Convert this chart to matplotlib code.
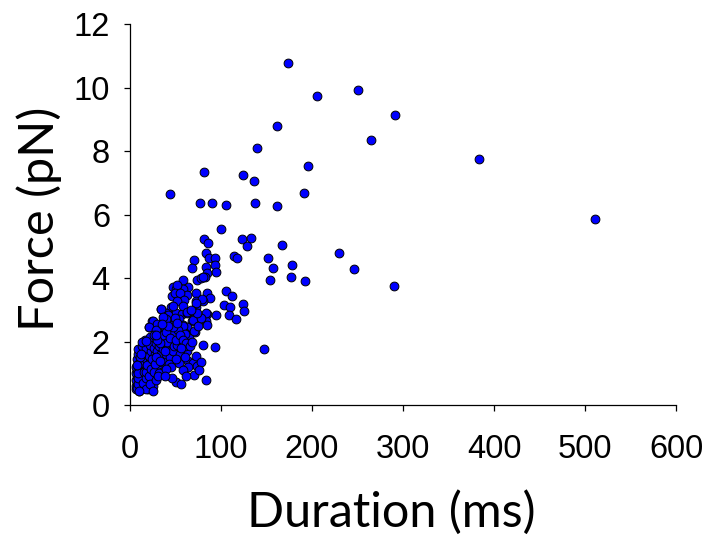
import matplotlib
matplotlib.use('Agg')
import matplotlib.pyplot as plt

# 持续时间 (ms) 与 力 (pN)
# 离群点 / 中间区域
duration_outer = [174, 205, 250, 291, 162, 265, 140, 383, 196, 81, 124, 136, 191, 44, 162, 511,
                  167, 230, 178, 246, 177, 192, 290, 77, 90, 106, 137, 100, 81, 86, 123, 133,
                  129, 83, 70, 87, 93, 114, 118, 152, 68, 84, 93, 157, 95, 85, 82, 74, 78, 154,
                  105, 112, 85, 88, 72, 64, 80, 124, 103, 110, 125, 85, 94, 109, 116, 68, 84,
                  85, 71, 65, 93, 147]
force_outer = [10.78, 9.73, 9.93, 9.14, 8.80, 8.35, 8.10, 7.76, 7.53, 7.35, 7.26, 7.07, 6.70, 6.66,
               6.26, 5.87, 5.06, 4.80, 4.42, 4.29, 4.04, 3.92, 3.74, 6.37, 6.38, 6.30, 6.38, 5.56,
               5.24, 5.11, 5.24, 5.27, 5.02, 4.80, 4.57, 4.62, 4.64, 4.70, 4.62, 4.62, 4.32, 4.35,
               4.42, 4.32, 4.20, 4.16, 4.04, 3.94, 4.00, 3.94, 3.60, 3.44, 3.53, 3.38, 3.54, 3.72,
               3.28, 3.19, 3.15, 3.09, 2.97, 2.87, 2.84, 2.84, 2.72, 2.65, 2.65, 2.52, 2.30, 2.27,
               1.83, 1.77]

# 斜带区域
duration_mid = [58, 58, 47, 51, 46, 54, 63, 73, 79, 72, 45, 34, 40, 46, 51, 57, 63, 54, 43, 48,
                58, 63, 60, 65, 24, 21, 27, 32, 31, 38, 40, 49, 63, 72, 64, 54, 51, 84, 69, 74,
                80, 52, 49, 55, 72, 59, 52, 58, 69, 63, 69, 83, 34, 47, 42, 49, 39, 36, 25, 30,
                21, 28, 37, 43, 47, 58, 70, 60, 16, 22, 38]
force_mid = [3.94, 3.65, 3.73, 3.65, 3.44, 3.46, 3.48, 3.29, 3.33, 3.10, 3.10, 3.04, 2.89, 2.85,
             2.91, 2.87, 2.89, 2.70, 2.64, 2.56, 2.51, 2.47, 2.28, 2.11, 2.64, 2.45, 2.43, 2.51,
             2.22, 2.39, 2.15, 2.22, 1.69, 1.27, 1.38, 1.33, 0.73, 0.79, 1.32, 1.23, 4.05, 3.78,
             3.54, 3.52, 3.21, 3.31, 3.27, 3.12, 2.96, 2.93, 2.68, 2.89, 3.04, 3.12, 2.83, 2.74,
             2.70, 2.79, 2.64, 2.56, 2.45, 2.37, 2.49, 2.41, 2.26, 2.49, 2.32, 2.24, 2.05, 2.14,
             2.07]

# 原点附近的密集区
duration_low = [7, 7, 8, 7, 8, 7, 8, 7, 9, 8, 9, 9, 10, 10, 11, 10, 11, 10, 11, 10, 12, 11, 12, 13,
                12, 13, 14, 12, 13, 14, 13, 15, 14, 13, 15, 16, 15, 16, 17, 16, 18, 17, 18, 19,
                20, 19, 21, 20, 22, 21, 23, 22, 24, 25, 24, 26, 25, 27, 26, 28, 29, 30, 29, 31,
                30, 32, 34, 35, 34, 36, 37, 39, 40, 42, 44, 45, 47, 8, 9, 9, 9, 10, 8, 11, 12,
                14, 15, 17, 18, 19, 21, 23, 24, 26, 27, 28, 33, 38, 41, 43, 48, 52, 55, 60, 35,
                32, 20, 25, 17, 22, 28, 31, 45, 50, 39, 33, 36, 40, 44, 50, 53, 47, 55, 42, 30,
                26, 35, 52, 58, 62, 56, 66, 68, 73, 78, 60, 64, 58, 70, 46, 38, 56, 62, 76, 80,
                75, 78, 74, 67, 25, 10, 8, 13, 18, 28]
force_low = [0.50, 0.60, 0.70, 0.80, 0.90, 1.00, 1.10, 1.20, 1.30, 1.45, 1.60, 1.75, 0.45, 0.55,
             0.65, 0.75, 0.85, 0.95, 1.05, 1.15, 1.25, 1.40, 0.50, 0.60, 0.70, 0.80, 0.90, 1.00,
             1.10, 1.20, 1.35, 1.50, 1.65, 1.85, 0.55, 0.70, 0.85, 1.00, 1.15, 1.30, 1.45, 1.60,
             1.80, 0.60, 0.75, 0.90, 1.05, 1.20, 1.35, 1.55, 1.70, 1.90, 0.80, 0.95, 1.10, 1.25,
             1.40, 1.60, 1.80, 1.95, 1.00, 1.20, 1.35, 1.50, 1.70, 1.85, 1.15, 1.35, 1.60, 1.75,
             1.95, 1.40, 1.60, 1.80, 1.50, 1.95, 1.70, 0.55, 0.65, 0.85, 1.00, 1.30, 1.25, 1.50,
             1.60, 0.70, 1.05, 0.85, 1.05, 1.25, 0.90, 1.15, 1.45, 1.05, 1.30, 1.50, 1.40, 1.70,
             2.00, 1.30, 1.85, 1.90, 1.60, 1.85, 1.05, 1.00, 0.50, 0.60, 0.50, 0.65, 0.80, 0.90,
             1.20, 1.45, 1.15, 1.95, 2.20, 2.30, 2.10, 2.05, 2.35, 2.45, 2.20, 2.50, 2.05, 2.20,
             2.55, 2.60, 2.05, 1.95, 1.80, 1.85, 2.00, 1.55, 1.35, 1.50, 1.20, 1.10, 0.95, 0.85,
             0.90, 0.65, 0.90, 1.10, 1.90, 2.50, 2.75, 2.90, 3.00, 0.45, 0.45, 1.27, 1.99, 2.03,
             2.22]

duration = duration_outer + duration_mid + duration_low
force = force_outer + force_mid + force_low

fig = plt.figure(figsize=(7.09, 5.42), dpi=100)
ax = fig.add_axes([0.1834, 0.2528, 0.7701, 0.7020])

ax.scatter(duration, force, s=40, c='#0000FF', edgecolors='black', linewidths=0.7, zorder=3,
           clip_on=False)

ax.set_xlim(0, 600)
ax.set_ylim(0, 12)
ax.set_xticks(range(0, 601, 100))
ax.set_yticks(range(0, 13, 2))

for side in ['top', 'right']:
    ax.spines[side].set_visible(False)
for side in ['left', 'bottom']:
    ax.spines[side].set_linewidth(0.9)
    ax.spines[side].set_color('black')

ax.tick_params(axis='both', direction='out', length=4, width=0.9, colors='black',
               labelsize=23.5, labelfontfamily='Liberation Sans')
ax.tick_params(axis='x', pad=17)
ax.tick_params(axis='y', pad=10.5)

ax.set_xlabel('Duration (ms)', fontsize=35, family='Lato')
ax.set_ylabel('Force (pN)', fontsize=35, family='Lato')
ax.xaxis.set_label_coords(0.478, -0.224)
ax.yaxis.set_label_coords(-0.125, 0.49)

fig.savefig('out.png', dpi=100)
